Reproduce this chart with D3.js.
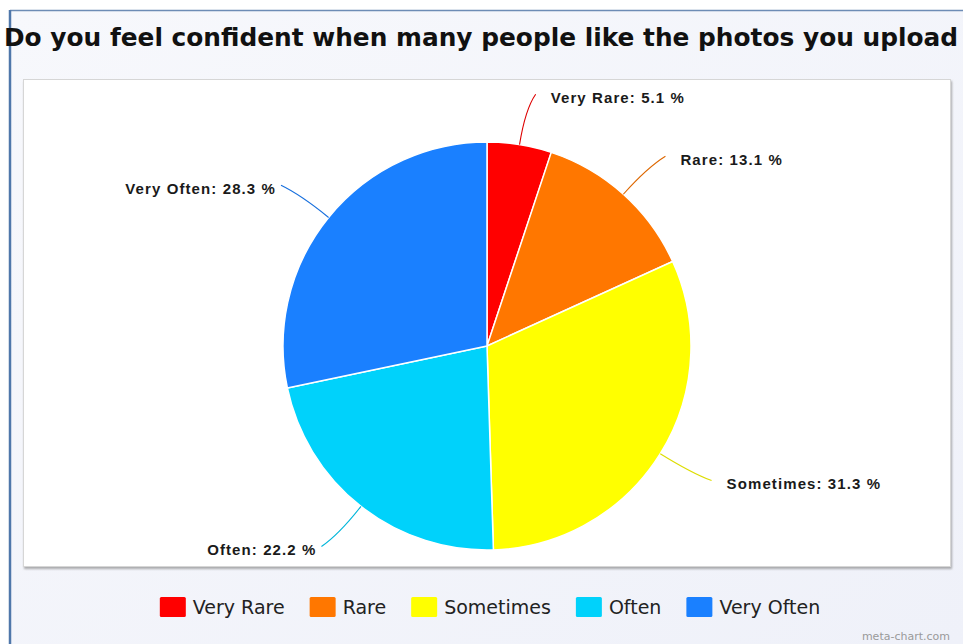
<!DOCTYPE html>
<html>
<head>
<meta charset="utf-8">
<script src="https://cdn.jsdelivr.net/npm/d3@7"></script>
<style>
  html, body { margin: 0; padding: 0; background: #ffffff; }
  svg { display: block; }
</style>
</head>
<body>
<svg id="chart" width="963" height="644"></svg>
<script>
// Survey answers and their shares (percent)
const titleText = "Do you feel confident when many people like the photos you upload";
const categories = ["Very Rare", "Rare", "Sometimes", "Often", "Very Often"];
const values = [5.1, 13.1, 31.3, 22.2, 28.3];
const colors = ["#ff0000", "#ff7700", "#ffff00", "#00d2fb", "#1a80ff"];
const watermark = "meta-chart.com";

const W = 963, H = 644;
const svg = d3.select("#chart");

const defs = svg.append("defs");
const bg = defs.append("linearGradient").attr("id", "bgGrad")
  .attr("x1", 0).attr("y1", 0).attr("x2", 1).attr("y2", 1);
bg.append("stop").attr("offset", "0%").attr("stop-color", "#f7f8fc");
bg.append("stop").attr("offset", "100%").attr("stop-color", "#eff1f9");

const shadow = defs.append("filter").attr("id", "panelShadow")
  .attr("x", "-5%").attr("y", "-5%").attr("width", "110%").attr("height", "112%");
shadow.append("feDropShadow").attr("dx", 1).attr("dy", 2).attr("stdDeviation", 1.2)
  .attr("flood-color", "#777").attr("flood-opacity", 0.6);

// Outer frame
svg.append("rect").attr("x", 0).attr("y", 0).attr("width", W).attr("height", H).attr("fill", "#ffffff");
svg.append("rect").attr("x", 10).attr("y", 10).attr("width", W - 10).attr("height", H - 10).attr("fill", "url(#bgGrad)");
svg.append("line").attr("x1", 10).attr("x2", W).attr("y1", 10.5).attr("y2", 10.5)
  .attr("stroke", "#6d8cb5").attr("stroke-width", 1.5);
svg.append("line").attr("x1", 10).attr("x2", 10).attr("y1", 10).attr("y2", H)
  .attr("stroke", "#4f77aa").attr("stroke-width", 2.5);

// Title, stretched across the full width of the frame
const title = svg.append("text")
  .attr("y", 46)
  .attr("font-family", "'DejaVu Sans', Verdana, sans-serif")
  .attr("font-weight", "bold")
  .attr("font-size", 25)
  .attr("fill", "#111")
  .text(titleText);
{
  const w = title.node().getComputedTextLength();
  const x0 = 4, x1 = 959;
  const s = (x1 - x0) / w;
  title.attr("transform", `translate(${x0},0) scale(${s},1)`).attr("x", 0);
}

// Plot panel
svg.append("rect")
  .attr("x", 23.5).attr("y", 79.5).attr("width", 927).attr("height", 487)
  .attr("fill", "#ffffff").attr("stroke", "#d6d6d6").attr("stroke-width", 1)
  .attr("filter", "url(#panelShadow)");

// Pie
const cx = 487, cy = 346, R = 204;
const pie = d3.pie().sort(null).value(d => d.value);
const data = categories.map((c, i) => ({ cat: c, value: values[i], color: colors[i] }));
const arcs = pie(data);
const arc = d3.arc().innerRadius(0).outerRadius(R);

const g = svg.append("g").attr("transform", `translate(${cx},${cy})`);
g.selectAll("path.slice").data(arcs).join("path")
  .attr("class", "slice")
  .attr("d", arc)
  .attr("fill", d => d.data.color)
  .attr("stroke", "#ffffff")
  .attr("stroke-width", 1.5)
  .attr("stroke-linejoin", "round");

// Leader lines and labels
const polar = (r, a) => [r * Math.sin(a), -r * Math.cos(a)];
arcs.forEach(d => {
  const mid = (d.startAngle + d.endAngle) / 2;
  const right = Math.sin(mid) >= 0;
  const p0 = polar(R, mid);
  const pc = polar(R + 36, mid);
  const pe = polar(R + 51, mid);
  pe[0] += right ? 8 : -8;
  g.append("path")
    .attr("d", `M${p0[0]},${p0[1]} Q${pc[0]},${pc[1]} ${pe[0]},${pe[1]}`)
    .attr("fill", "none")
    .attr("stroke", d3.color(d.data.color).darker(0.4))
    .attr("stroke-width", 1.1);
  g.append("text")
    .attr("x", pe[0] + (right ? 15 : -5))
    .attr("y", pe[1] + 3)
    .attr("dy", "0.35em")
    .attr("text-anchor", right ? "start" : "end")
    .attr("font-family", "'Liberation Sans', Arial, sans-serif")
    .attr("font-weight", "bold")
    .attr("font-size", 15)
    .attr("letter-spacing", 1.1)
    .attr("fill", "#1a1a1a")
    .text(`${d.data.cat}: ${d.data.value} %`);
});

// Legend
const legend = svg.append("g");
const sw = 26, sh = 20, gapText = 7, gapItem = 25;
let x = 0;
data.forEach(d => {
  const it = legend.append("g").attr("transform", `translate(${x},0)`);
  it.append("rect").attr("x", 0).attr("y", -sh / 2).attr("width", sw).attr("height", sh)
    .attr("rx", 1.5).attr("fill", d.color);
  const t = it.append("text").attr("x", sw + gapText).attr("y", 0).attr("dy", "0.35em")
    .attr("font-family", "'DejaVu Sans', Verdana, sans-serif")
    .attr("font-size", 19).attr("fill", "#222").text(d.cat);
  x += sw + gapText + t.node().getComputedTextLength() + gapItem;
});
const legendW = x - gapItem;
legend.attr("transform", `translate(${490 - legendW / 2},607)`);

// Watermark
svg.append("text").attr("x", 950).attr("y", 640).attr("text-anchor", "end")
  .attr("font-family", "'DejaVu Sans', sans-serif").attr("font-size", 11)
  .attr("fill", "#9a9a9a").text(watermark);
</script>
</body>
</html>
